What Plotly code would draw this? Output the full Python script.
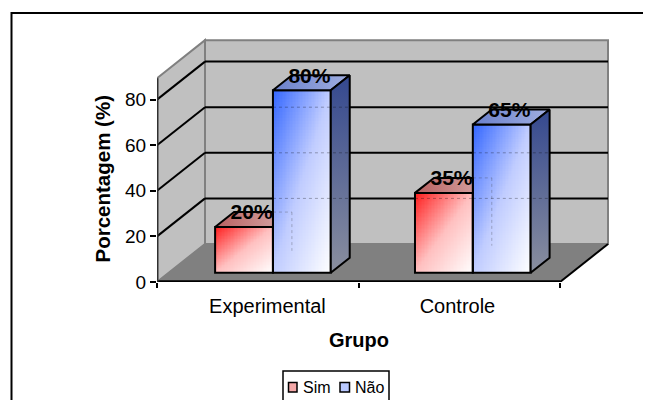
import numpy as np
import plotly.graph_objects as go

categories = ["Experimental", "Controle"]
sim = [20, 35]
nao = [80, 65]
series_names = ["Sim", "Não"]
y_ticks = [0, 20, 40, 60, 80]

W, H = 651, 400
PAGE = 8                               # default body margin of the page
L, R, T, B = 157, 615, 35, 282         # plot rectangle in page pixels
X_MAX = (R - L) / 201.5
Y_MAX = (B - T) / 2.28
DX, DY = 48 / 201.5, 38 / 2.28         # full depth in data units
WALL_TOP = 89.4


def proj(x, v, d):
    return x + d * DX, v + d * DY


def px(xp):
    return (xp - L) / (R - L)


def py(yp):
    return (B - yp) / (B - T)


fig = go.Figure()
shapes = []


def poly(pts, fill, line=None, width=0):
    path = "M " + " L ".join(f"{a},{b}" for a, b in pts) + " Z"
    shapes.append(dict(type="path", xref="x", yref="y", path=path, fillcolor=fill,
                       line=dict(color=line or "rgba(0,0,0,0)", width=width), layer="below"))


def seg(a, b, color="black", width=2, layer="below"):
    shapes.append(dict(type="line", xref="x", yref="y", x0=a[0], y0=a[1], x1=b[0], y1=b[1],
                       line=dict(color=color, width=width), layer=layer))


def face(pts, fill, gradient, line_width=2):
    fig.add_trace(go.Scatter(x=[p[0] for p in pts], y=[p[1] for p in pts], mode="lines", fill="toself",
                             fillcolor=fill, fillgradient=gradient,
                             line=dict(color="black", width=line_width), hoverinfo="skip", showlegend=False))


n = len(categories)
# walls and floor
poly([proj(0, 0, 1), proj(n, 0, 1), proj(n, WALL_TOP, 1), proj(0, WALL_TOP, 1)], "#C0C0C0", "#808080", 2)
poly([proj(0, 0, 0), proj(0, 0, 1), proj(0, WALL_TOP, 1), proj(0, WALL_TOP, 0)], "#C0C0C0", "#808080", 2)
poly([proj(0, 0, 0), proj(n, 0, 0), proj(n, 0, 1), proj(0, 0, 1)], "#808080", "#808080", 1)
for v in y_ticks[1:]:
    seg(proj(0, v, 0), proj(0, v, 1))
    seg(proj(0, v, 1), proj(n, v, 1))
seg(proj(0, 0, 0), proj(n, 0, 0), width=3.5)
seg(proj(n, 0, 0), proj(n, 0, 1), width=2)
seg(proj(0, 0, 0), proj(0, WALL_TOP, 0), color="#303030", width=3)

D0, D1 = 0.245, 0.64
BAR_W = 0.287
STARTS = [0.23, 1.222]
BASE = D0 * DY


def grad(x0, v, color, mid):
    x_edges = np.linspace(x0, x0 + BAR_W, 41)
    y_edges = np.linspace(BASE, BASE + v, 61)
    u = (x_edges[:-1] + x_edges[1:]) / 2
    u = (u - x0) / BAR_W
    w = (y_edges[:-1] + y_edges[1:]) / 2
    w = (BASE + v - w) / v
    z = (u[None, :] + w[:, None]) / 2
    fig.add_trace(go.Heatmap(x=x_edges + D0 * DX, y=y_edges, z=z, zmin=0, zmax=1,
                             colorscale=[[0, color], [0.5, mid], [1, "#ffffff"]],
                             showscale=False, hoverinfo="skip"))


styles = {"Sim": ("#ff1c1c", "#ffc0c0", "#b86060", "#d09a9a"),
          "Não": ("#3366ff", "#c0ccff", "#6a80cc", "#a0aee0")}

for name, vals, off in [("Sim", sim, 0), ("Não", nao, BAR_W)]:
    xs = [s + off for s in STARTS]
    st = styles[name]
    for x0, v in zip(xs, vals):
        grad(x0, v, st[0], st[1])
    fig.add_trace(go.Bar(
        x=[x + BAR_W / 2 + D0 * DX for x in xs], y=vals, base=BASE, width=BAR_W,
        name=name, showlegend=False,
        marker=dict(color="rgba(0,0,0,0)", line=dict(color="black", width=2)),
    ))
    for x0, v in zip(xs, vals):
        a, b = x0, x0 + BAR_W
        top_grad = dict(type="horizontal", colorscale=[[0, st[2]], [1, st[3]]])
        if name == "Sim":
            # the part of the top behind the neighbouring bar stays hidden
            bx = b + D0 * DX
            yb = proj(a, v, D1)[1]
            pts = [proj(a, v, D0), proj(b, v, D0), (bx, yb), proj(a, v, D1), proj(a, v, D0)]
            face(pts, st[2], top_grad)
            # faint outline of the hidden corner, seen through the next bar
            for p, q in [((bx, yb), proj(b, v, D1)), (proj(b, v, D1), proj(b, v * 0.15, D1))]:
                fig.add_trace(go.Scatter(x=[p[0], q[0]], y=[p[1], q[1]], mode="lines",
                                         line=dict(color="rgba(60,60,60,0.3)", width=1, dash="dot"),
                                         hoverinfo="skip", showlegend=False))
        else:
            pts = [proj(a, v, D0), proj(b, v, D0), proj(b, v, D1), proj(a, v, D1), proj(a, v, D0)]
            face(pts, st[2], top_grad)
            pts = [proj(b, 0, D0), proj(b, 0, D1), proj(b, v, D1), proj(b, v, D0), proj(b, 0, D0)]
            face(pts, "#3a4f9a", dict(type="vertical", colorscale=[[0, "#8a8f9f"], [1, "#34488f"]]))

# faint gridlines showing through the bars
for vals, off, ext in [(sim, 0, 0.0), (nao, BAR_W, D1)]:
    for s, val in zip(STARTS, vals):
        x0 = s + off
        for v in y_ticks[1:4]:
            a = proj(0, v, 1)[1]
            if BASE < a < val + BASE:
                x1 = x0 + BAR_W + (ext if ext else D0) * DX
                fig.add_trace(go.Scatter(x=[x0 + D0 * DX, x1], y=[a, a], mode="lines",
                                         line=dict(color="rgba(0,0,0,0.3)", width=1, dash="dot"),
                                         hoverinfo="skip", showlegend=False))

# data labels
lx, ly, lt = [], [], []
for vals, off in [(sim, 0), (nao, BAR_W)]:
    for s, v in zip(STARTS, vals):
        lx.append(s + off + BAR_W / 2 + D0 * DX + 7.6 / 201.5)
        ly.append(v + BASE + 13 / 2.28)
        lt.append(f"{v}%")
fig.add_trace(go.Scatter(x=lx, y=ly, mode="text", text=lt, textposition="middle center",
                         textfont=dict(family="Liberation Sans", size=21, color="black"),
                         texttemplate="<b>%{text}</b>", hoverinfo="skip", showlegend=False))

# frame: open to the right and bottom, running off the page
shapes.append(dict(type="rect", xref="paper", yref="paper", x0=px(11.5), x1=px(670), y0=py(420), y1=py(13),
                   line=dict(color="black", width=2), layer="above"))
# legend, also running off the bottom
shapes.append(dict(type="rect", xref="paper", yref="paper", x0=px(283), x1=px(389), y0=py(420), y1=py(371),
                   line=dict(color="black", width=1.5), layer="above"))
ann = []
for name, sx, sw, tx, col in [("Sim", 288.5, 8.5, 302, "#f4a8a8"), ("Não", 340, 9.5, 354, "#b8c8ff")]:
    shapes.append(dict(type="rect", xref="paper", yref="paper", x0=px(sx), x1=px(sx + sw), y0=py(392), y1=py(382.5),
                       fillcolor=col, line=dict(color="black", width=1.5), layer="above"))
    ann.append(dict(xref="paper", yref="paper", x=px(tx), y=py(387), text=name, showarrow=False, xanchor="left",
                    xshift=-1, yanchor="middle", font=dict(family="Liberation Sans", size=16, color="black")))
ann.append(dict(xref="paper", yref="paper", x=px(359), y=py(340), text="<b>Grupo</b>", showarrow=False,
                xanchor="center", yanchor="middle",
                font=dict(family="Liberation Sans", size=20, color="black")))
ann.append(dict(xref="paper", yref="paper", x=px(101.5), y=py(179), text="<b>Porcentagem (%)</b>", showarrow=False,
                xanchor="center", yanchor="middle",
                textangle=-90, font=dict(family="Liberation Sans", size=20.5, color="black")))

fig.update_layout(
    width=W - PAGE, height=H - PAGE, autosize=False, paper_bgcolor="white", plot_bgcolor="rgba(0,0,0,0)",
    margin=dict(l=L - PAGE, r=W - R, t=T - PAGE, b=H - B, pad=0),
    showlegend=False, shapes=shapes, annotations=ann, barmode="overlay",
    xaxis=dict(range=[0, X_MAX], showgrid=False, zeroline=False, showline=False,
               tickmode="array", tickvals=[0.548, 1.491], ticktext=categories, ticks="", ticklabelstandoff=10,
               tickfont=dict(family="Liberation Sans", size=20, color="black"),
               minor=dict(tickmode="array", tickvals=[0, 1, 2], ticks="outside", ticklen=5, tickwidth=1.5,
                          tickcolor="black", showgrid=False)),
    yaxis=dict(range=[0, Y_MAX], showgrid=False, zeroline=False, showline=False,
               tickmode="array", tickvals=y_ticks, ticks="outside", ticklen=6, tickwidth=1.5, tickcolor="black",
               tickfont=dict(family="Liberation Sans", size=19, color="black")),
)
fig.write_html("out.html")
